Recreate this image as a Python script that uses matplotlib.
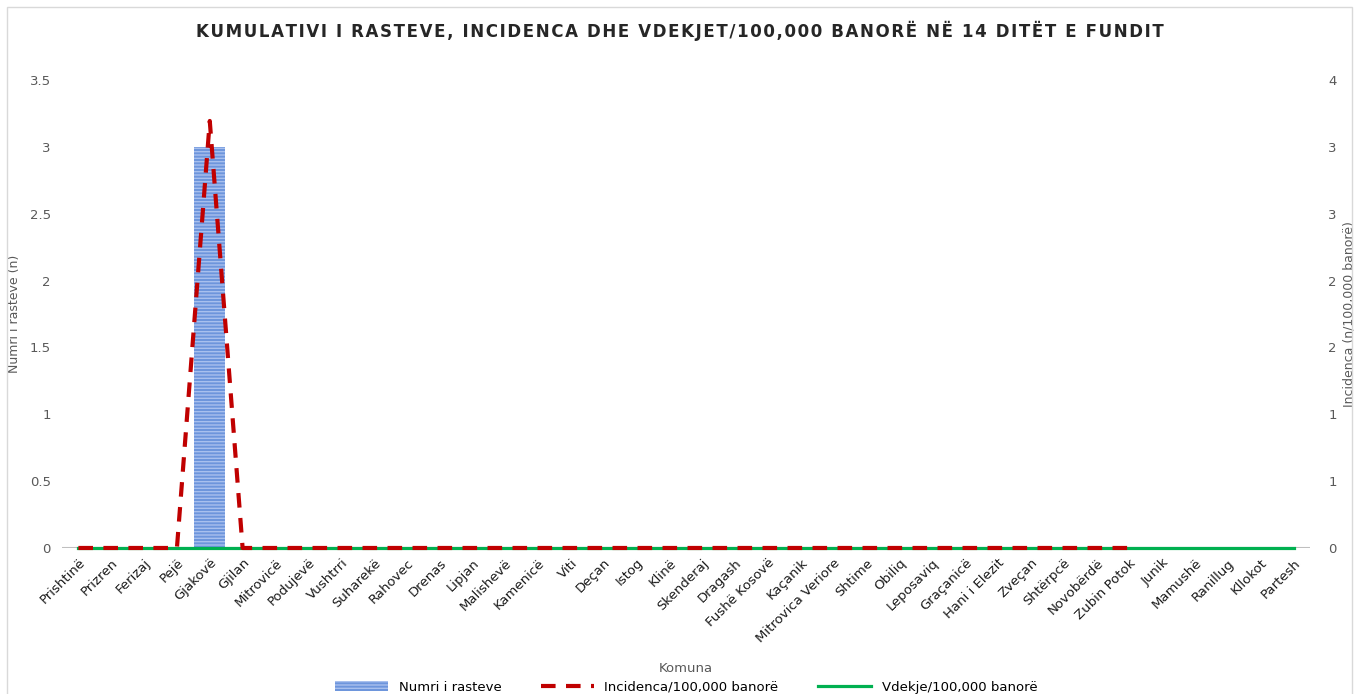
import numpy as np
import matplotlib.pyplot as plt
from matplotlib.patches import Rectangle
from matplotlib.lines import Line2D

komunat = ['Prishtinë', 'Prizren', 'Ferizaj', 'Pejë', 'Gjakovë', 'Gjilan', 'Mitrovicë',
           'Podujevë', 'Vushtrri', 'Suharekë', 'Rahovec', 'Drenas', 'Lipjan', 'Malishevë',
           'Kamenicë', 'Viti', 'Deçan', 'Istog', 'Klinë', 'Skenderaj', 'Dragash',
           'Fushë Kosovë', 'Kaçanik', 'Mitrovica Veriore', 'Shtime', 'Obiliq', 'Leposaviq',
           'Graçanicë', 'Hani i Elezit', 'Zveçan', 'Shtërpcë', 'Novobërdë', 'Zubin Potok',
           'Junik', 'Mamushë', 'Ranillug', 'Kllokot', 'Partesh']
rastet = [0, 0, 0, 0, 3] + [0] * 33
# incidence only reported up to Zubin Potok
incidenca = [0, 0, 0, 0, 3.65] + [0] * 28 + [np.nan] * 5
vdekje = [0] * 38

title = 'KUMULATIVI I RASTEVE, INCIDENCA DHE VDEKJET/100,000 BANORË NË 14 DITËT E FUNDIT'

fig = plt.figure(figsize=(13.59, 6.94), dpi=100)
fig.patches.append(Rectangle((0.005, -0.01), 0.99, 1.0, transform=fig.transFigure,
                             fill=False, edgecolor='#d9d9d9', lw=1))

ax = fig.add_axes([0.0456, 0.2104, 0.9184, 0.6743])
ax2 = ax.twinx()
x = np.arange(len(komunat))

ax.bar(x, rastet, width=0.95, color='#6d95dc', edgecolor='#a8c0ee', hatch='-----',
       linewidth=0, zorder=2)
ax.axhline(0, color='#bfbfbf', lw=1.5, zorder=1)
ax.set_ylim(0, 3.5)
ax.set_yticks(np.arange(0, 3.51, 0.5))
ax.set_yticklabels(['0', '0.5', '1', '1.5', '2', '2.5', '3', '3.5'])
ax.set_xlim(-0.5, len(komunat) - 0.5)
ax.set_xticks(x)
ax.set_xticklabels(komunat, rotation=45, ha='right', rotation_mode='anchor', fontsize=9,
                   color='#1a1a1a')

ax2.plot(x, vdekje, color='#00b050', lw=2.3, zorder=3, clip_on=False)
ax2.plot(x, incidenca, color='#c00000', lw=3, ls=(0, (3.5, 2.5)), zorder=4, clip_on=False)
ax2.set_ylim(0, 4)
r_ticks = np.linspace(0, 4, 8)
ax2.set_yticks(r_ticks)
ax2.set_yticklabels([str(int(round(v))) for v in r_ticks])

for a in (ax, ax2):
    for s in a.spines.values():
        s.set_visible(False)
    a.tick_params(length=0, colors='#595959', labelsize=9.5)
ax.tick_params(axis='y', pad=8)
ax.tick_params(axis='x', pad=6, colors='#1a1a1a')
ax2.tick_params(axis='y', pad=13)

ax.set_ylabel('Numri i rasteve (n)', fontsize=9, color='#595959', labelpad=6)
ax2.set_ylabel('Incidenca (n/100,000 banorë)', fontsize=9, color='#595959', labelpad=4)
ax.set_xlabel('Komuna', fontsize=9.5, color='#595959', labelpad=12)

fig.text(0.5, 0.955, '\u200a'.join(title), ha='center', va='center', fontsize=12,
         fontweight='bold', color='#262626')

handles = [Rectangle((0, 0), 1, 1, facecolor='#6d95dc', edgecolor='#a8c0ee', hatch='-----', lw=0),
           Line2D([], [], color='#c00000', lw=3, ls=(0, (3.5, 2.5))),
           Line2D([], [], color='#00b050', lw=2.3)]
fig.legend(handles, ['Numri i rasteve', 'Incidenca/100,000 banorë', 'Vdekje/100,000 banorë'],
           loc='center', bbox_to_anchor=(0.505, 0.01), ncol=3, frameon=False,
           fontsize=9.5, handlelength=4, columnspacing=3, borderpad=0)

fig.savefig('out.png', dpi=100)
